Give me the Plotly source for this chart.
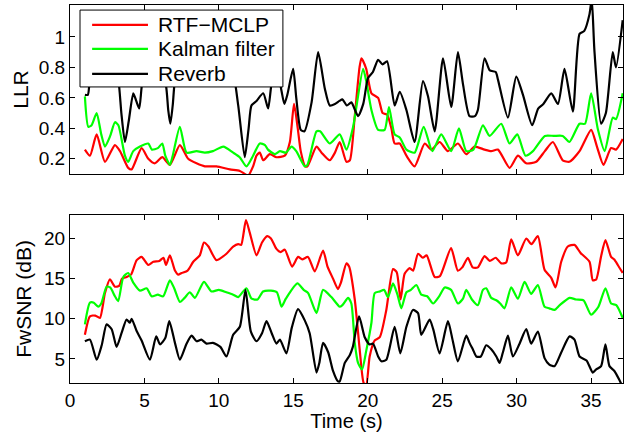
import plotly.graph_objects as go
from plotly.subplots import make_subplots

# ---- Top panel: LLR ----
llr_rtf_t = [1.0, 1.34, 1.79, 2.35, 3.02, 3.36, 3.91, 4.14, 4.81, 5.26, 5.70, 6.2, 6.71, 7.38, 7.94, 8.5, 9.06, 9.84,
             10.74, 11.41, 11.97, 12.3, 12.53, 12.75, 12.98, 13.42, 13.87, 14.43, 14.77, 15.05, 15.3, 15.5, 15.8, 15.95,
             16.56, 16.9, 17.45, 17.8, 18.12, 18.57, 18.8, 19.13, 19.45, 19.58, 19.9, 20.25, 20.7, 21.0, 21.3, 21.59,
             21.81, 22.15, 22.6, 23.15, 23.83, 24.27, 24.83, 25.39, 26.06, 26.62, 27.18, 27.85, 28.3, 28.75, 29.53,
             30.09, 30.65, 31.32, 31.9, 32.44, 33.1, 33.55, 34.23, 35.01, 35.4, 35.84, 36.35, 36.68, 37.13]
llr_rtf = [0.26, 0.22, 0.36, 0.18, 0.29, 0.25, 0.14, 0.13, 0.27, 0.20, 0.17, 0.21, 0.16, 0.29, 0.20, 0.17, 0.15, 0.15,
           0.13, 0.12, 0.09, 0.15, 0.22, 0.24, 0.19, 0.23, 0.21, 0.22, 0.31, 0.56, 0.40, 0.25, 0.15, 0.15,
           0.28, 0.24, 0.19, 0.24, 0.31, 0.18, 0.19, 0.48, 0.80, 0.86, 0.79, 0.63, 0.60, 0.50, 0.49, 0.40,
           0.30, 0.30, 0.22, 0.15, 0.30, 0.26, 0.31, 0.25, 0.30, 0.23, 0.28, 0.26, 0.25, 0.26, 0.14,
           0.22, 0.17, 0.18, 0.25, 0.31, 0.19, 0.18, 0.25, 0.39, 0.28, 0.16, 0.27, 0.26, 0.33]

llr_kal_t = [1.0, 1.23, 1.45, 1.79, 2.1, 2.35, 2.7, 3.02, 3.25, 3.69, 3.91, 4.25, 4.7, 5.26, 5.5, 5.9, 6.2, 6.4, 6.71,
             6.9, 7.38, 7.83, 8.5, 9.06, 9.6, 10.3, 10.96, 11.4, 11.85, 12.3, 12.75, 13.1, 13.3, 13.76, 14.1, 14.5,
             14.88, 15.2, 15.77, 15.95, 16.56, 16.8, 17.45, 18.12, 18.57, 19.02, 19.69, 19.9, 20.25, 20.7, 21.14,
             21.43, 21.81, 22.15, 22.6, 23.15, 23.76, 24.34, 24.94, 25.61, 26.13, 26.62, 27.1, 27.74, 28.19, 28.97,
             29.53, 30.05, 30.6, 31.1, 31.9, 32.5, 33.1, 33.55, 34.23, 34.6, 35.01, 35.47, 35.92, 36.46, 36.68, 37.13]
llr_kal = [0.61, 0.41, 0.42, 0.50, 0.36, 0.28, 0.35, 0.44, 0.42, 0.22, 0.18, 0.25, 0.28, 0.30, 0.26, 0.27, 0.30, 0.22,
           0.16, 0.22, 0.41, 0.24, 0.25, 0.24, 0.25, 0.28, 0.24, 0.21, 0.15, 0.22, 0.30, 0.29, 0.26, 0.23, 0.25, 0.24,
           0.28, 0.25, 0.15, 0.16, 0.38, 0.38, 0.30, 0.36, 0.26, 0.41, 0.79, 0.71, 0.52, 0.39, 0.39,
           0.54, 0.36, 0.34, 0.26, 0.24, 0.41, 0.25, 0.36, 0.25, 0.40, 0.25, 0.26, 0.42, 0.35, 0.43,
           0.30, 0.36, 0.22, 0.25, 0.35, 0.35, 0.35, 0.31, 0.43, 0.43, 0.63, 0.39, 0.25, 0.47, 0.46, 0.63]

llr_rev_t = [1.0, 1.2, 1.35, 1.8, 2.3, 2.8, 3.25, 3.45, 3.69, 3.95, 4.25, 4.45, 4.65, 4.85, 5.4, 6.0, 6.45, 6.6, 6.74,
             6.9, 7.1, 7.8, 8.6, 9.4, 10.2, 10.9, 11.3, 11.74, 12.0, 12.19, 12.53, 12.98, 13.31, 13.55, 13.9, 14.2,
             14.4, 14.6, 14.99, 15.2, 15.5, 15.75, 16.23, 16.67, 17.12, 17.45, 17.8, 18.1, 18.3, 18.6, 18.9, 19.35,
             19.7, 20.02, 20.35, 20.7, 21.0, 21.3, 21.81, 22.15, 22.6, 23.15, 23.71, 24.05, 24.5, 25.06, 25.61,
             26.06, 26.4, 26.84, 27.2, 27.4, 27.85, 28.2, 28.6, 28.75, 29.42, 29.98, 30.43, 31.05, 31.45, 31.8,
             32.33, 32.78, 33.22, 33.78, 34.23, 34.55, 34.9, 35.05, 35.23, 35.68, 36.0, 36.46, 36.68, 37.13]
llr_rev = [0.62, 0.62, 0.75, 0.95, 0.80, 0.90, 0.72, 0.50, 0.31, 0.45, 0.63, 0.58, 0.53, 0.70, 0.90, 0.82, 0.68, 0.52,
           0.43, 0.55, 0.75, 0.90, 0.95, 0.85, 0.92, 0.80, 0.55, 0.21, 0.40, 0.55, 0.58, 0.63, 0.53, 0.70, 0.80, 0.65,
           0.56, 0.62, 0.79, 0.60, 0.39, 0.38, 0.57, 0.90, 0.66, 0.55, 0.56, 0.58, 0.59, 0.55, 0.57, 0.48,
           0.56, 0.73, 0.77, 0.85, 0.82, 0.84, 0.55, 0.64, 0.52, 0.31, 0.71, 0.61, 0.38, 0.86, 0.54,
           0.90, 0.69, 0.48, 0.48, 0.52, 0.86, 0.78, 0.77, 0.72, 0.47, 0.74, 0.62, 0.42, 0.53, 0.56,
           0.63, 0.56, 0.79, 0.51, 1.02, 1.04, 1.15, 1.25, 0.91, 0.43, 0.50, 0.90, 0.80, 1.11]

# ---- Bottom panel: FwSNR ----
snr_rtf_t = [1.0, 1.34, 1.7, 2.01, 2.35, 2.68, 3.02, 3.3, 3.5, 3.8, 4.1, 4.48, 4.81, 5.26, 5.6, 6.0, 6.28, 6.45, 6.71,
             7.05, 7.27, 7.5, 7.9, 8.28, 8.72, 9.0, 9.3, 9.84, 10.51, 10.96, 11.3, 11.5, 11.82, 12.08, 12.53, 12.9,
             13.25, 13.5, 13.87, 14.15, 14.43, 14.92, 15.32, 15.6, 15.99, 16.44, 17.0, 17.3, 17.67, 18.0, 18.2,
             18.57, 18.75, 19.13, 19.46, 19.73, 19.9, 20.13, 20.47, 20.81, 21.25, 21.7, 21.95, 22.21, 22.48, 22.82,
             23.05, 23.38, 23.7, 23.96, 24.5, 24.85, 25.6, 26.05, 26.35, 26.73, 27.05, 27.4, 27.85, 28.2, 28.6,
             28.97, 29.3, 29.64, 30.09, 30.65, 31.0, 31.43, 31.88, 32.33, 32.62, 33.0, 33.44, 33.89, 34.3, 34.9,
             35.12, 35.35, 35.68, 35.97, 36.35, 36.55, 36.8, 37.13]
snr_rtf = [8.0, 10.3, 10.4, 10.1, 13.2, 14.9, 14.0, 14.1, 15.0, 15.2, 15.5, 17.3, 17.7, 16.7, 17.1, 17.2, 17.6, 16.7, 17.9,
           16.0, 15.5, 15.7, 16.0, 17.1, 17.9, 19.5, 19.0, 17.3, 18.1, 19.0, 19.3, 19.2, 22.3, 20.7, 17.9, 19.5,
           20.3, 20.0, 18.7, 18.3, 18.6, 16.5, 17.7, 17.4, 17.7, 15.9, 18.5, 16.5, 15.0, 13.7, 14.5,
           16.9, 16.5, 12.4, 6.2, 2.0, 1.8, 5.3, 7.3, 7.7, 11.1, 16.2, 15.8, 12.4, 15.6, 16.3,
           16.0, 18.1, 17.6, 17.9, 15.2, 15.3, 18.8, 16.0, 16.4, 17.6, 16.4, 16.4, 17.8, 17.2, 17.6,
           16.9, 17.0, 19.9, 17.9, 20.0, 19.3, 20.3, 16.1, 15.1, 13.9, 17.1, 19.0, 19.2, 18.2, 17.1,
           14.8, 14.9, 17.8, 19.8, 17.7, 17.4, 16.7, 15.7]

snr_kal_t = [1.0, 1.34, 1.6, 1.9, 2.1, 2.46, 2.7, 3.02, 3.24, 3.58, 3.91, 4.25, 4.7, 5.15, 5.48, 5.9, 6.26, 6.71, 7.0,
             7.38, 7.7, 8.05, 8.39, 9.0, 9.5, 10.0, 10.5, 10.96, 11.3, 11.85, 12.2, 12.6, 12.97, 13.5, 13.9, 14.21,
             14.5, 15.28, 15.7, 16.0, 16.56, 17.0, 17.56, 18.12, 18.3, 18.68, 18.9, 19.13, 19.35, 19.62, 19.9,
             20.25, 20.47, 20.8, 21.1, 21.36, 21.7, 22.0, 22.26, 22.6, 22.9, 23.27, 23.6, 24.0, 24.39, 24.8, 25.17,
             25.6, 26.06, 26.4, 26.62, 27.0, 27.4, 27.74, 27.96, 28.3, 28.64, 28.9, 29.19, 29.64, 30.09, 30.54,
             30.98, 31.43, 31.88, 32.2, 32.55, 32.9, 33.56, 34.0, 34.5, 35.01, 35.5, 35.97, 36.35, 36.7, 37.13]
snr_kal = [9.3, 12.0, 12.0, 11.5, 11.9, 14.0, 13.9, 12.8, 12.2, 15.2, 15.7, 14.5, 13.5, 13.8, 12.8, 13.0, 12.8, 14.8, 13.8,
           12.1, 12.6, 13.3, 12.6, 14.6, 13.4, 13.6, 13.3, 13.0, 12.7, 13.8, 12.5, 12.4, 13.4, 13.5, 13.3, 11.5,
           12.5, 14.4, 13.6, 13.2, 10.7, 13.6, 12.7, 11.5, 11.7, 12.6, 11.9, 7.0, 4.5, 3.7, 6.0,
           9.5, 13.2, 13.4, 13.6, 12.7, 14.4, 13.0, 11.3, 13.3, 13.6, 14.2, 13.0, 12.8, 11.9, 12.8, 13.9,
           13.6, 11.9, 12.5, 13.6, 12.4, 11.7, 13.6, 13.8, 12.6, 12.3, 11.9, 11.3, 13.9, 12.5, 14.6,
           13.1, 14.2, 11.5, 11.3, 11.1, 11.7, 12.6, 12.4, 12.3, 10.5, 11.5, 13.8, 11.9, 11.7, 10.1]

snr_rev_t = [1.0, 1.34, 1.79, 2.13, 2.46, 2.8, 3.13, 3.46, 3.8, 4.02, 4.14, 4.47, 4.81, 5.37, 5.79, 6.05, 6.4, 6.67,
             7.05, 7.38, 7.83, 8.17, 8.5, 8.83, 9.17, 9.6, 10.1, 10.51, 10.96, 11.41, 11.79, 12.15, 12.53, 12.9,
             13.2, 13.55, 13.87, 14.1, 14.54, 14.9, 15.32, 15.77, 16.1, 16.56, 16.75, 17.0, 17.35, 17.67, 18.0,
             18.12, 18.46, 18.8, 19.0, 19.42, 19.8, 20.13, 20.36, 20.7, 20.92, 21.25, 21.81, 22.19, 22.6, 23.04,
             23.38, 23.6, 24.16, 24.4, 24.83, 25.39, 25.72, 26.06, 26.62, 26.84, 27.06, 27.3, 27.6, 27.96, 28.3,
             28.64, 28.86, 29.08, 29.42, 29.75, 30.2, 30.65, 30.98, 31.43, 31.88, 32.2, 32.55, 33.0, 33.56, 33.89,
             34.23, 34.7, 35.12, 35.35, 35.68, 35.97, 36.24, 36.57, 36.9, 37.13]
snr_rev = [7.2, 7.4, 4.9, 6.7, 9.3, 8.7, 6.5, 8.2, 9.9, 9.5, 10.0, 8.5, 7.3, 4.9, 7.8, 6.8, 7.6, 9.7,
           7.0, 4.9, 6.9, 7.9, 7.2, 7.4, 6.9, 7.0, 6.5, 5.3, 8.0, 9.0, 13.6, 8.4, 7.2, 8.2,
           9.7, 8.2, 6.9, 7.4, 5.7, 8.9, 11.2, 9.8, 8.2, 3.3, 4.5, 7.0, 5.8, 3.5, 2.2,
           2.2, 4.5, 5.5, 6.5, 10.3, 7.7, 6.8, 6.9, 5.3, 4.7, 4.9, 9.0, 5.7, 9.0, 11.1,
           10.7, 8.0, 9.9, 8.7, 5.7, 9.7, 7.2, 4.7, 7.9, 7.0, 6.2, 5.3, 5.3, 6.7, 6.2,
           5.3, 4.5, 5.8, 7.9, 5.3, 6.9, 8.7, 6.9, 8.4, 5.1, 4.3, 4.1, 5.8, 7.8, 7.4,
           5.3, 4.8, 3.3, 3.7, 4.1, 6.8, 4.1, 3.5, 2.4, 1.5]

names = ["RTF\u2212MCLP", "Kalman filter", "Reverb"]
colors = ["#ff0000", "#00ff00", "#000000"]

fig = make_subplots(rows=2, cols=1, vertical_spacing=0.1)

top = [(llr_rtf_t, llr_rtf), (llr_kal_t, llr_kal), (llr_rev_t, llr_rev)]
bot = [(snr_rtf_t, snr_rtf), (snr_kal_t, snr_kal), (snr_rev_t, snr_rev)]
for i, ((tx, ty), (bx, by)) in enumerate(zip(top, bot)):
    fig.add_trace(go.Scatter(x=tx, y=ty, mode="lines", name=names[i],
                             line=dict(color=colors[i], width=2.2, shape="spline", smoothing=0.6),
                             showlegend=False), row=1, col=1)
    fig.add_trace(go.Scatter(x=bx, y=by, mode="lines", name=names[i],
                             line=dict(color=colors[i], width=2.2, shape="spline", smoothing=0.6),
                             showlegend=False), row=2, col=1)

font = "Liberation Sans, Arial, sans-serif"
axis_common = dict(showline=True, linecolor="black", linewidth=1, mirror="ticks", ticks="inside",
                   ticklen=5, tickcolor="black", showgrid=False, zeroline=False,
                   tickfont=dict(family=font, size=19, color="black"))

fig.update_xaxes(**axis_common, range=[0, 37.15], tickvals=[0, 5, 10, 15, 20, 25, 30, 35], automargin=False)
fig.update_xaxes(showticklabels=False, row=1, col=1)
fig.update_xaxes(title=dict(text="Time (s)", font=dict(family=font, size=20, color="black"), standoff=4),
                 row=2, col=1)
fig.update_yaxes(**axis_common, automargin=False)
fig.update_yaxes(range=[0.1, 1.21], tickvals=[0.2, 0.4, 0.6, 0.8, 1.0], ticktext=["0.2", "0.4", "0.6", "0.8", "1"],
                 title=dict(text="LLR", font=dict(family=font, size=21, color="black"), standoff=4),
                 row=1, col=1)
fig.update_yaxes(range=[2.0, 22.95], tickvals=[5, 10, 15, 20],
                 title=dict(text="FwSNR (dB)", font=dict(family=font, size=21, color="black"), standoff=6),
                 row=2, col=1)

# Legend box (Matlab style) placed in the top axes' domain
shapes = [dict(type="rect", xref="x domain", yref="y domain", x0=0.0181, x1=0.385, y0=0.515, y1=0.970,
               fillcolor="white", line=dict(color="black", width=1), layer="above")]
annotations = []
row_y = [0.882, 0.740, 0.592]
for i in range(3):
    shapes.append(dict(type="line", xref="x domain", yref="y domain", x0=0.040, x1=0.141,
                       y0=row_y[i], y1=row_y[i], line=dict(color=colors[i], width=2.2), layer="above"))
    annotations.append(dict(xref="x domain", yref="y domain", x=0.155, y=row_y[i], text=names[i],
                            showarrow=False, xanchor="left", yanchor="middle",
                            font=dict(family=font, size=21, color="black")))

fig.update_layout(
    width=624, height=432,
    margin=dict(l=70, r=1, t=5, b=49),
    plot_bgcolor="white", paper_bgcolor="white",
    xaxis=dict(domain=[0, 1]), xaxis2=dict(domain=[0, 1]),
    yaxis=dict(domain=[0.553, 1.0]), yaxis2=dict(domain=[0.0, 0.445]),
    shapes=shapes, annotations=annotations,
    showlegend=False,
)

fig.write_html("out.html")
